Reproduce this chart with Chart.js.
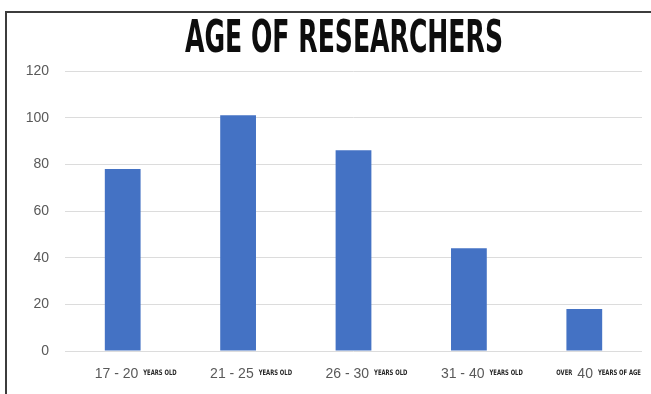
<!DOCTYPE html>
<html>
<head>
<meta charset="utf-8">
<script src="https://cdn.jsdelivr.net/npm/chart.js@4"></script>
<style>
  html, body { margin: 0; padding: 0; background: #ffffff; }
  #wrap { width: 651px; height: 394px; position: relative; }
</style>
</head>
<body>
<div id="wrap"><canvas id="c" width="651" height="394"></canvas></div>
<script>
// Age groups of the researchers and how many fall in each
const chartTitle = 'AGE OF RESEARCHERS';
const agePrefix = ['', '', '', '', 'OVER'];
const ageRange = ['17 - 20', '21 - 25', '26 - 30', '31 - 40', '40'];
const ageSuffix = ['YEARS OLD', 'YEARS OLD', 'YEARS OLD', 'YEARS OLD', 'YEARS OF AGE'];
const researchers = [78, 101, 86, 44, 18];
const yTicks = [0, 20, 40, 60, 80, 100, 120];

const categories = ageRange.map((r, i) => [agePrefix[i], r, ageSuffix[i]].filter(Boolean).join(' '));

// Frame lines, white background and the condensed heading
const framePlugin = {
  id: 'frame',
  beforeDraw(chart) {
    const ctx = chart.ctx;
    ctx.save();
    ctx.fillStyle = '#ffffff';
    ctx.fillRect(0, 0, chart.width, chart.height);
    ctx.strokeStyle = '#3c3c3c';
    ctx.lineWidth = 2;
    ctx.beginPath();
    ctx.moveTo(5, 12);
    ctx.lineTo(chart.width, 12);
    ctx.moveTo(6, 11);
    ctx.lineTo(6, chart.height);
    ctx.stroke();

    ctx.font = 'bold 44px "DejaVu Sans Condensed", "DejaVu Sans", sans-serif';
    const w = ctx.measureText(chartTitle).width;
    const targetW = 318;
    const sx = targetW / w;
    ctx.translate(344, 52);
    ctx.scale(sx, 1);
    ctx.fillStyle = '#0d0d0d';
    ctx.textAlign = 'center';
    ctx.textBaseline = 'alphabetic';
    ctx.fillText(chartTitle, 0, 0);
    ctx.restore();
  }
};

// Category labels: range in regular type, the words in tiny condensed caps
const catLabelPlugin = {
  id: 'catLabels',
  afterDraw(chart) {
    const ctx = chart.ctx;
    const xs = chart.scales.x;
    const big = '14px "Liberation Sans", Arial, sans-serif';
    const small = 'bold 7.5px "DejaVu Sans Condensed", "DejaVu Sans", sans-serif';
    const smallScale = 0.78;
    const baseline = 378;
    ctx.save();
    ctx.textBaseline = 'alphabetic';
    ctx.textAlign = 'left';
    ageRange.forEach((r, i) => {
      let x = xs.getPixelForValue(i) - 28;
      if (agePrefix[i]) {
        ctx.font = small;
        ctx.fillStyle = '#262626';
        const pw = ctx.measureText(agePrefix[i]).width * smallScale;
        ctx.save();
        ctx.translate(x, baseline - 3);
        ctx.scale(smallScale, 1);
        ctx.fillText(agePrefix[i], 0, 0);
        ctx.restore();
        x += pw + 5;
      }
      ctx.font = big;
      ctx.fillStyle = '#595959';
      ctx.fillText(r, x, baseline);
      x += ctx.measureText(r).width + 5;
      ctx.font = small;
      ctx.fillStyle = '#262626';
      ctx.save();
      ctx.translate(x, baseline - 3);
      ctx.scale(smallScale, 1);
      ctx.fillText(ageSuffix[i], 0, 0);
      ctx.restore();
    });
    ctx.restore();
  }
};

new Chart(document.getElementById('c'), {
  type: 'bar',
  data: {
    labels: categories,
    datasets: [{
      label: 'Researchers',
      data: researchers,
      backgroundColor: '#4472C4',
      borderWidth: 0,
      categoryPercentage: 1.0,
      barPercentage: 0.31
    }]
  },
  options: {
    responsive: false,
    animation: false,
    devicePixelRatio: 1,
    layout: { padding: { top: 71, right: 9, left: 0, bottom: 0 } },
    plugins: {
      legend: { display: false },
      title: { display: false },
      tooltip: { enabled: false }
    },
    scales: {
      x: {
        grid: { display: false, drawTicks: false },
        border: { display: false },
        ticks: { display: false },
        afterFit(scale) { scale.height = 43; }
      },
      y: {
        min: 0,
        max: 120,
        afterBuildTicks(scale) { scale.ticks = yTicks.map(v => ({ value: v })); },
        grid: { color: '#dcdcdc', lineWidth: 1, drawTicks: false },
        border: { display: false },
        ticks: {
          color: '#595959',
          font: { family: '"Liberation Sans", Arial, sans-serif', size: 14 },
          padding: 16
        },
        afterFit(scale) { scale.width = 65; }
      }
    }
  },
  plugins: [framePlugin, catLabelPlugin]
});
</script>
</body>
</html>
